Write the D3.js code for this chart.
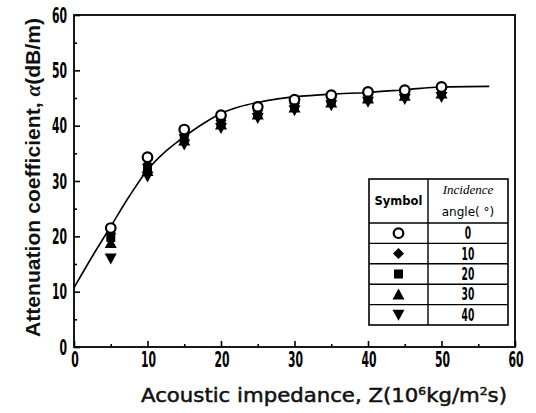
<!DOCTYPE html>
<html>
<head>
<meta charset="utf-8">
<script src="https://cdn.jsdelivr.net/npm/d3@7"></script>
<style>
  html, body { margin: 0; padding: 0; background: #fff; }
  svg { display: block; }
  .tick-num { font-family: "DejaVu Sans Condensed", "DejaVu Sans", sans-serif; font-weight: bold; }
</style>
</head>
<body>
<svg id="chart" width="536" height="413"></svg>
<script>
// Impedance values (10^6 kg/m^2 s) at which attenuation was measured
const impedance = [5, 10, 15, 20, 25, 30, 35, 40, 45, 50];

// Attenuation coefficient (dB/m) for each incidence angle
const angle0  = [21.5, 34.3, 39.3, 41.9, 43.4, 44.7, 45.5, 46.1, 46.4, 47.0];
const angle10 = [20.5, 33.0, 38.3, 41.0, 42.8, 44.0, 45.0, 45.6, 46.0, 46.6];
const angle20 = [19.8, 32.3, 37.8, 40.6, 42.4, 43.6, 44.6, 45.2, 45.7, 46.2];
const angle30 = [18.8, 31.8, 37.3, 40.2, 42.0, 43.3, 44.2, 44.9, 45.4, 45.8];
const angle40 = [16.0, 30.8, 36.6, 39.6, 41.4, 42.8, 43.7, 44.3, 44.8, 45.2];

// Fitted curve
const fitZ     = [0, 2.5, 5, 7.5, 10, 12.5, 15, 17.5, 20, 22.5, 25, 27.5, 30, 35, 40, 45, 50, 56.5];
const fitAlpha = [10.7, 16.4, 21.8, 27.2, 32.0, 35.4, 38.0, 40.3, 42.2, 43.4, 44.2, 44.8, 45.2, 45.7, 46.0, 46.5, 47.0, 47.1];

const angleLabels = ["0", "10", "20", "30", "40"];
const symbolKinds = ["circle", "diamond", "square", "triangleUp", "triangleDown"];

const xTicks = [0, 10, 20, 30, 40, 50, 60];
const yTicks = [0, 10, 20, 30, 40, 50, 60];

const series = [angle0, angle10, angle20, angle30, angle40];

const svg = d3.select("#chart");
const m = { left: 74, right: 515, top: 15, bottom: 347 };

const x = d3.scaleLinear().domain([0, 60]).range([m.left, m.right]);
const y = d3.scaleLinear().domain([0, 60]).range([m.bottom, m.top]);

// Frame
svg.append("rect")
  .attr("x", m.left).attr("y", m.top)
  .attr("width", m.right - m.left).attr("height", m.bottom - m.top)
  .attr("fill", "none").attr("stroke", "#000").attr("stroke-width", 1.8);

// Inward ticks, major + minor
const minor = d3.range(5, 60, 10);
const xAxis = svg.append("g").attr("transform", `translate(0,${m.bottom})`)
  .call(d3.axisBottom(x).tickValues(xTicks).tickSize(-6).tickFormat(""));
const xAxisMinor = svg.append("g").attr("transform", `translate(0,${m.bottom})`)
  .call(d3.axisBottom(x).tickValues(minor).tickSize(-3).tickFormat(""));
const yAxis = svg.append("g").attr("transform", `translate(${m.left},0)`)
  .call(d3.axisLeft(y).tickValues(yTicks).tickSize(-6).tickFormat(""));
const yAxisMinor = svg.append("g").attr("transform", `translate(${m.left},0)`)
  .call(d3.axisLeft(y).tickValues(minor).tickSize(-3).tickFormat(""));
[xAxis, xAxisMinor, yAxis, yAxisMinor].forEach(g => {
  g.select(".domain").remove();
  g.selectAll("line").attr("stroke", "#000").attr("stroke-width", 1.6);
});

// Tall, narrow bold numerals
const numScale = "scale(0.6,1.08)";

// Tick labels
svg.append("g").selectAll("text").data(xTicks).join("text")
  .attr("class", "tick-num")
  .attr("transform", d => `translate(${x(d) + 1},367) ${numScale}`)
  .attr("text-anchor", "middle")
  .attr("font-size", 20)
  .text(d => d);
svg.append("g").selectAll("text").data(yTicks).join("text")
  .attr("class", "tick-num")
  .attr("transform", d => `translate(67,${y(d) + 7.5}) ${numScale}`)
  .attr("text-anchor", "end")
  .attr("font-size", 20)
  .text(d => d);

// Axis titles
const xt = svg.append("text")
  .attr("x", 141).attr("y", 402)
  .attr("textLength", 366).attr("lengthAdjust", "spacingAndGlyphs")
  .attr("font-family", "DejaVu Sans, sans-serif")
  .attr("font-size", 19)
  .attr("stroke", "#111").attr("stroke-width", 0.5)
  .attr("fill", "#111");
xt.append("tspan").text("Acoustic impedance, Z(10");
xt.append("tspan").attr("dy", -7).attr("font-size", 11).text("6");
xt.append("tspan").attr("dy", 7).text("kg/m");
xt.append("tspan").attr("dy", -7).attr("font-size", 11).text("2");
xt.append("tspan").attr("dy", 7).text("s)");

const yt = svg.append("text")
  .attr("transform", "translate(40,337) rotate(-90)")
  .attr("textLength", 319).attr("lengthAdjust", "spacingAndGlyphs")
  .attr("font-family", "Liberation Sans, Arial, sans-serif")
  .attr("font-size", 20)
  .attr("font-weight", "bold")
  .attr("fill", "#111");
yt.append("tspan").text("Attenuation coefficient, ");
yt.append("tspan").attr("font-style", "italic").attr("font-family", "Liberation Serif, serif").text("α");
yt.append("tspan").text("(dB/m)");

// Fitted curve
const line = d3.line().x(d => x(d[0])).y(d => y(d[1])).curve(d3.curveMonotoneX);
svg.append("path")
  .datum(fitZ.map((z, i) => [z, fitAlpha[i]]))
  .attr("d", line)
  .attr("fill", "none").attr("stroke", "#000").attr("stroke-width", 1.6);

// Marker shapes
function marker(g, kind, cx, cy) {
  if (kind === "circle") {
    g.append("circle").attr("cx", cx).attr("cy", cy).attr("r", 4.8)
      .attr("fill", "#fff").attr("stroke", "#000").attr("stroke-width", 2.2);
  } else if (kind === "diamond") {
    g.append("path").attr("transform", `translate(${cx},${cy})`)
      .attr("d", "M0,-5.5L5.5,0L0,5.5L-5.5,0Z").attr("fill", "#000");
  } else if (kind === "square") {
    g.append("rect").attr("x", cx - 4.5).attr("y", cy - 4.5)
      .attr("width", 9).attr("height", 9).attr("fill", "#000");
  } else if (kind === "triangleUp") {
    g.append("path").attr("transform", `translate(${cx},${cy})`)
      .attr("d", "M0,-6L6,5L-6,5Z").attr("fill", "#000");
  } else {
    g.append("path").attr("transform", `translate(${cx},${cy})`)
      .attr("d", "M0,6L6,-5L-6,-5Z").attr("fill", "#000");
  }
}

// Data points: draw deepest series first so open circles sit on top
const pts = svg.append("g");
for (let s = series.length - 1; s >= 0; s--) {
  series[s].forEach((v, i) => marker(pts, symbolKinds[s], x(impedance[i]), y(v)));
}

// Legend table
const lg = { left: 369, right: 508, mid: 428, top: 179, head: 223, bottom: 325 };
const rowH = (lg.bottom - lg.head) / angleLabels.length;
const leg = svg.append("g");
leg.append("rect")
  .attr("x", lg.left).attr("y", lg.top)
  .attr("width", lg.right - lg.left).attr("height", lg.bottom - lg.top)
  .attr("fill", "#fff").attr("stroke", "#000").attr("stroke-width", 1.6);
leg.append("line").attr("x1", lg.mid).attr("x2", lg.mid)
  .attr("y1", lg.top).attr("y2", lg.bottom).attr("stroke", "#000").attr("stroke-width", 1.4);
angleLabels.forEach((lab, i) => {
  const yy = lg.head + i * rowH;
  leg.append("line").attr("x1", lg.left).attr("x2", lg.right)
    .attr("y1", yy).attr("y2", yy).attr("stroke", "#000").attr("stroke-width", 1.4);
  marker(leg, symbolKinds[i], (lg.left + lg.mid) / 2, yy + rowH / 2);
  leg.append("text").attr("class", "tick-num")
    .attr("transform", `translate(${(lg.mid + lg.right) / 2},${yy + rowH / 2 + 6}) scale(0.6,1.08)`)
    .attr("text-anchor", "middle").attr("font-size", 17)
    .text(lab);
});
leg.append("text")
  .attr("x", (lg.left + lg.mid) / 2).attr("y", (lg.top + lg.head) / 2 + 4)
  .attr("text-anchor", "middle")
  .attr("font-family", "DejaVu Sans, sans-serif")
  .attr("font-size", 11.5).attr("font-weight", "bold")
  .text("Symbol");
leg.append("text")
  .attr("x", (lg.mid + lg.right) / 2).attr("y", lg.top + 15)
  .attr("text-anchor", "middle")
  .attr("font-family", "Liberation Serif, serif")
  .attr("font-style", "italic")
  .attr("font-size", 13)
  .text("Incidence");
leg.append("text")
  .attr("x", (lg.mid + lg.right) / 2).attr("y", lg.top + 37)
  .attr("text-anchor", "middle")
  .attr("font-family", "DejaVu Sans, sans-serif")
  .attr("font-size", 12)
  .text("angle( °)");
</script>
</body>
</html>
